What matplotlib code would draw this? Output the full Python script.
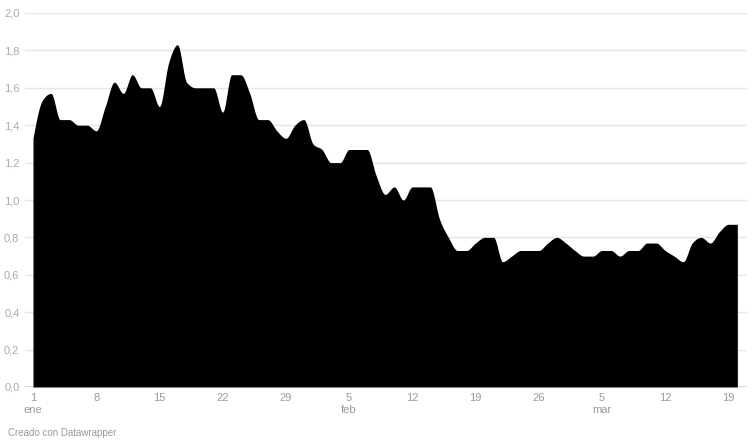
import numpy as np
import matplotlib
matplotlib.use("Agg")
import matplotlib.pyplot as plt
import matplotlib.dates as mdates
import datetime as dt

plt.rcParams['font.family'] = ['Liberation Sans', 'DejaVu Sans']

start_date = dt.date(2021, 1, 1)
values = [1.33, 1.53, 1.57, 1.43, 1.43, 1.40, 1.40, 1.37, 1.50, 1.63,
          1.57, 1.67, 1.60, 1.60, 1.50, 1.73, 1.83, 1.63, 1.60, 1.60,
          1.60, 1.47, 1.67, 1.67, 1.57, 1.43, 1.43, 1.37, 1.33, 1.40,
          1.43, 1.30, 1.27, 1.20, 1.20, 1.27, 1.27, 1.27, 1.13, 1.03,
          1.07, 1.00, 1.07, 1.07, 1.07, 0.90, 0.80, 0.73, 0.73, 0.77,
          0.80, 0.80, 0.67, 0.70, 0.73, 0.73, 0.73, 0.77, 0.80, 0.77,
          0.73, 0.70, 0.70, 0.73, 0.73, 0.70, 0.73, 0.73, 0.77, 0.77,
          0.73, 0.70, 0.67, 0.77, 0.80, 0.77, 0.83, 0.87, 0.87]
dates = [start_date + dt.timedelta(days=i) for i in range(len(values))]

tick_dates = [dt.date(2021, 1, 1), dt.date(2021, 1, 8), dt.date(2021, 1, 15),
              dt.date(2021, 1, 22), dt.date(2021, 1, 29), dt.date(2021, 2, 5),
              dt.date(2021, 2, 12), dt.date(2021, 2, 19), dt.date(2021, 2, 26),
              dt.date(2021, 3, 5), dt.date(2021, 3, 12), dt.date(2021, 3, 19)]
tick_labels = ["1\nene", "8", "15", "22", "29", "5\nfeb", "12", "19", "26",
               "5\nmar", "12", "19"]
y_ticks = [0.0, 0.2, 0.4, 0.6, 0.8, 1.0, 1.2, 1.4, 1.6, 1.8, 2.0]
y_labels = ["0,0", "0,2", "0,4", "0,6", "0,8", "1,0", "1,2", "1,4", "1,6", "1,8", "2,0"]
credit = "Creado con Datawrapper"

# monotone-x cubic (as d3.curveMonotoneX) for a smooth line
x = mdates.date2num(dates)
y = np.array(values, dtype=float)
n = len(x)
h = np.diff(x)
s = np.diff(y) / h
t = np.zeros(n)
for i in range(1, n - 1):
    p = (s[i - 1] * h[i] + s[i] * h[i - 1]) / (h[i - 1] + h[i])
    t[i] = (np.sign(s[i - 1]) + np.sign(s[i])) * min(abs(s[i - 1]), abs(s[i]), 0.5 * abs(p))
t[0] = (3 * s[0] - t[1]) / 2
t[-1] = (3 * s[-1] - t[-2]) / 2
xs, ys = [], []
for i in range(n - 1):
    u = np.linspace(0, 1, 25, endpoint=(i == n - 2))
    h00 = 2 * u**3 - 3 * u**2 + 1
    h10 = u**3 - 2 * u**2 + u
    h01 = -2 * u**3 + 3 * u**2
    h11 = u**3 - u**2
    xs.append(x[i] + u * h[i])
    ys.append(h00 * y[i] + h10 * h[i] * t[i] + h01 * y[i + 1] + h11 * h[i] * t[i + 1])
xs = np.concatenate(xs)
ys = np.concatenate(ys)

fig = plt.figure(figsize=(7.56, 4.47), dpi=100)
ax = fig.add_axes([25 / 756, (447 - 387) / 447, 722 / 756, 374 / 447])
ax.fill_between(xs, 0, ys, color="black", linewidth=0, zorder=2)

x0 = x[0]
ax.set_xlim(x0 - 8 / 9.03, x0 + 714 / 9.03)
ax.set_ylim(0, 2.0)

ax.set_yticks(y_ticks)
ax.set_yticklabels(y_labels)
ax.set_xticks(mdates.date2num(tick_dates))
ax.set_xticklabels(tick_labels, linespacing=1.25)

for yv in y_ticks[1:]:
    ax.axhline(yv, color="#e5e5e5", linewidth=1, zorder=1)
ax.axhline(0, color="#333333", linewidth=1, zorder=3)

for sp in ax.spines.values():
    sp.set_visible(False)
ax.tick_params(axis="y", length=0, pad=4, labelsize=8, labelcolor="#aaaaaa")
ax.tick_params(axis="x", length=0, pad=4, labelsize=8, labelcolor="#999999")

fig.text(8 / 756, 1 - 433 / 447, credit, fontsize=7, color="#999999", va="center", ha="left")

fig.savefig("out.png", dpi=100)
